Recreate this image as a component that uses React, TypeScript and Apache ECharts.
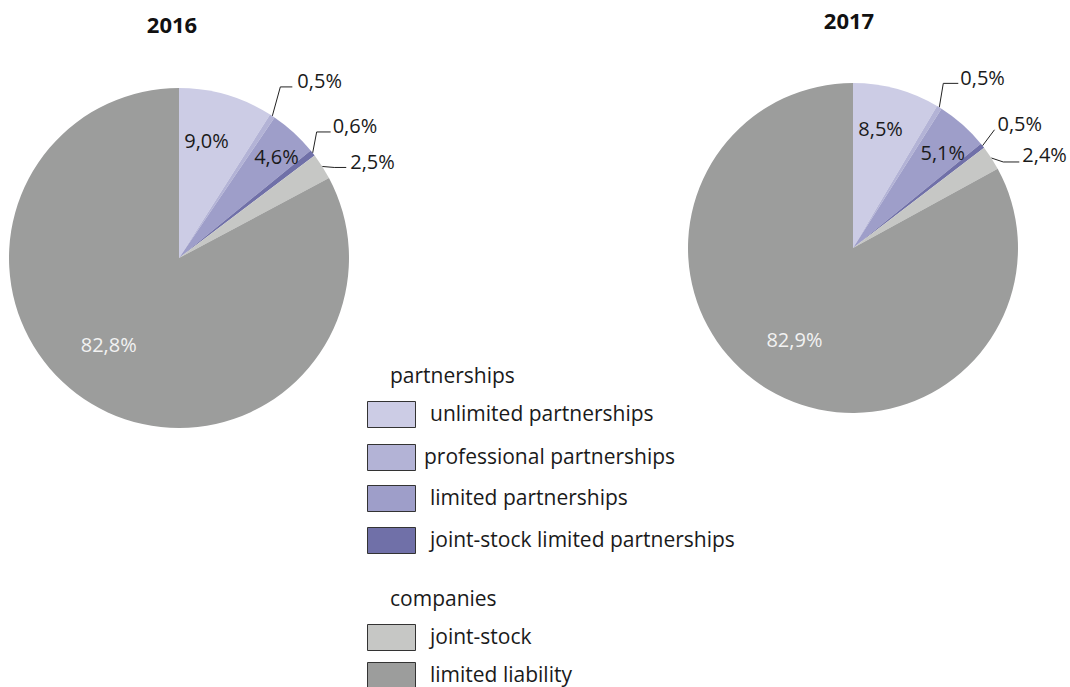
import React, { useEffect, useRef } from "react";
import * as echarts from "echarts";

const categories = [
  "unlimited partnerships",
  "professional partnerships",
  "limited partnerships",
  "joint-stock limited partnerships",
  "joint-stock",
  "limited liability",
];
const groupHeaders = ["partnerships", "companies"];
const years = ["2016", "2017"];
const values2016 = [9.0, 0.5, 4.6, 0.6, 2.5, 82.8];
const values2017 = [8.5, 0.5, 5.1, 0.5, 2.4, 82.9];
const colors = ["#CCCCE5", "#B3B3D6", "#9E9EC9", "#7070A8", "#C6C7C5", "#9C9D9C"];

const FONT = "'Open Sans', 'Noto Sans', sans-serif";

// styling: label placement per year (inside offsets / leader-line bends)
type Cfg = { kind: "in"; dx: number; dy: number; color: string } | { kind: "out"; mx: number; my: number; ex: number; gap: number; up: number };
const layout2016: Cfg[] = [
  { kind: "in", dx: 3, dy: -33, color: "#1a1a1a" },
  { kind: "out", mx: 8, my: -29, ex: 12, gap: 5, up: 6 },
  { kind: "in", dx: 38, dy: -37, color: "#1a1a1a" },
  { kind: "out", mx: 4, my: -21, ex: 14, gap: 2, up: 6 },
  { kind: "out", mx: 12, my: 1, ex: 12, gap: 4, up: 6 },
  { kind: "in", dx: -25, dy: 11, color: "#f2f2f2" },
];
const layout2017: Cfg[] = [
  { kind: "in", dx: 5, dy: -37, color: "#1a1a1a" },
  { kind: "out", mx: 4, my: -24, ex: 15, gap: 2, up: 6 },
  { kind: "in", dx: 33, dy: -32, color: "#1a1a1a" },
  { kind: "out", mx: 12, my: -16, ex: 0, gap: 3, up: 6 },
  { kind: "out", mx: 12, my: 4, ex: 16, gap: 3, up: 7 },
  { kind: "in", dx: -15, dy: 18, color: "#f2f2f2" },
];

const fmt = (v: number) => v.toFixed(1).replace(".", ",") + "%";

function makeSeries(vals: number[], cfgs: Cfg[], center: number[], radius: number) {
  return {
    type: "pie",
    center,
    radius,
    startAngle: 90,
    clockwise: true,
    avoidLabelOverlap: false,
    silent: true,
    label: {
      show: true,
      fontFamily: FONT,
      fontSize: 20,
      color: "#1a1a1a",
      formatter: (p: any) => fmt(p.value),
    },
    labelLine: { show: true, length: 10, length2: 10, lineStyle: { color: "#222", width: 1 } },
    labelLayout: (p: any) => {
      const cfg = cfgs[p.dataIndex];
      if (cfg.kind === "in") {
        const r = p.labelRect;
        return { x: r.x + r.width / 2 + cfg.dx, y: r.y + r.height / 2 + cfg.dy, align: "center", verticalAlign: "middle" };
      }
      const pts = p.labelLinePoints;
      if (!pts) return {};
      const ax = pts[0][0], ay = pts[0][1];
      const bx = ax + cfg.mx, by = ay + cfg.my, ex = bx + cfg.ex;
      return {
        x: ex + cfg.gap,
        y: by - cfg.up,
        align: "left",
        verticalAlign: "middle",
        labelLinePoints: [[ax, ay], [bx, by], [ex, by]],
      };
    },
    data: vals.map((v, i) => {
      const cfg = cfgs[i];
      const inside = cfg.kind === "in";
      return {
        name: categories[i],
        value: v,
        itemStyle: { color: colors[i] },
        label: inside ? { position: "inside", color: (cfg as any).color } : { position: "outside" },
        labelLine: { show: !inside },
      };
    }),
  };
}

export default function App() {
  const ref = useRef<HTMLDivElement>(null);
  useEffect(() => {
    if (!ref.current) return;
    const chart = echarts.init(ref.current, null, { renderer: "svg" });

    const legendBoxY = [401, 444, 485, 527, 624, 662];
    const legendTextX = [430, 424, 430, 430, 430, 430];
    const headerY = [375, 598];
    const graphic: any[] = [];
    graphic.push({ type: "text", x: 172, y: 24, style: { text: years[0], font: `bold 22px ${FONT}`, fill: "#111", align: "center", verticalAlign: "middle" } });
    graphic.push({ type: "text", x: 849, y: 20, style: { text: years[1], font: `bold 22px ${FONT}`, fill: "#111", align: "center", verticalAlign: "middle" } });
    groupHeaders.forEach((h, gi) => {
      graphic.push({ type: "text", x: 390, y: headerY[gi], style: { text: h, font: `21px ${FONT}`, fill: "#1a1a1a", verticalAlign: "middle" } });
    });
    categories.forEach((c, i) => {
      graphic.push({
        type: "rect",
        shape: { x: 367.5, y: legendBoxY[i] + 0.5, width: 48, height: 26 },
        style: { fill: colors[i], stroke: "#333", lineWidth: 1 },
      });
      graphic.push({
        type: "text",
        x: legendTextX[i],
        y: legendBoxY[i] + 12,
        style: { text: c, font: `21px ${FONT}`, fill: "#1a1a1a", verticalAlign: "middle" },
      });
    });

    chart.setOption({
      animation: false,
      backgroundColor: "#ffffff",
      series: [
        makeSeries(values2016, layout2016, [179, 258], 170),
        makeSeries(values2017, layout2017, [853, 248], 165),
      ],
      graphic,
    });
    return () => chart.dispose();
  }, []);
  return <div ref={ref} style={{ position: "absolute", left: 0, top: 0, width: 1070, height: 687 }} />;
}
